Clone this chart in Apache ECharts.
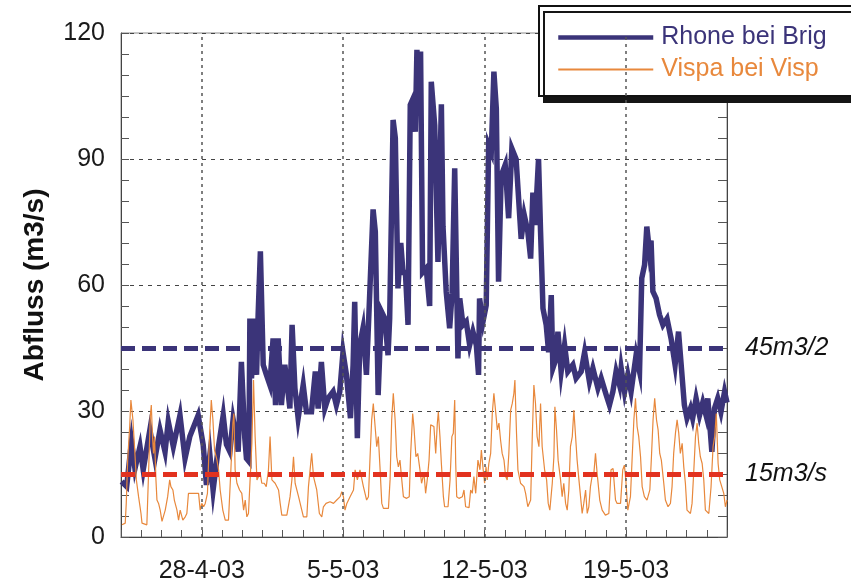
<!DOCTYPE html>
<html>
<head>
<meta charset="utf-8">
<script src="https://cdn.jsdelivr.net/npm/echarts@6/dist/echarts.min.js"></script>
<style>
  html, body { margin: 0; padding: 0; background: #fff; }
  #chart { width: 851px; height: 582px; }
</style>
</head>
<body>
<div id="chart"></div>
<script>
// Abfluss der Rhone bei Brig und der Vispa bei Visp, 24.4.–24.5.2003
// x-Werte: Tage ab 24-4-03 00:00

const dayTicks = [4, 11, 18, 25];
const dayTickLabels = ['28-4-03', '5-5-03', '12-5-03', '19-5-03'];

const seriesNames = ['Rhone bei Brig', 'Vispa bei Visp'];
const thresholdValues = [45, 15];
const thresholdLabels = ['45m3/2', '15m3/s'];

const rhoneDay = [
  0.03, 0.28, 0.52, 0.69, 0.94, 1.10, 1.43, 1.68, 1.93, 2.18, 2.34, 2.59, 2.92, 3.17, 3.41, 3.82,
  4.07, 4.23, 4.40, 4.56, 4.81, 5.06, 5.22, 5.39, 5.55, 5.72, 5.80, 5.96, 6.13, 6.21, 6.33, 6.38,
  6.46, 6.63, 6.71, 6.79, 6.90, 7.04, 7.20, 7.37, 7.53, 7.65, 7.78, 7.94, 8.11, 8.36, 8.47, 8.61,
  8.77, 9.02, 9.18, 9.43, 9.62, 9.76, 9.92, 10.09, 10.25, 10.50, 10.66, 10.83, 10.99, 11.16, 11.36,
  11.49, 11.57, 11.70, 11.82, 11.98, 12.15, 12.31, 12.48, 12.59, 12.73, 12.89, 13.06, 13.22, 13.30,
  13.47, 13.58, 13.71, 13.85, 13.96, 14.08, 14.21, 14.32, 14.46, 14.57, 14.65, 14.73, 14.83, 14.93,
  15.11, 15.28, 15.36, 15.53, 15.69, 15.86, 15.94, 16.10, 16.27, 16.39, 16.52, 16.68, 16.77, 16.93,
  17.09, 17.26, 17.42, 17.59, 17.70, 17.75, 17.92, 18.08, 18.20, 18.33, 18.46, 18.58, 18.69, 18.82,
  19.02, 19.19, 19.35, 19.56, 19.65, 19.81, 19.96, 20.14, 20.28, 20.39, 20.50, 20.67, 20.77, 20.89,
  21.05, 21.17, 21.30, 21.38, 21.54, 21.63, 21.79, 21.96, 22.12, 22.37, 22.53, 22.78, 22.95, 23.19,
  23.36, 23.61, 23.77, 24.02, 24.18, 24.35, 24.51, 24.68, 24.76, 24.93, 25.09, 25.25, 25.50, 25.67,
  25.78, 25.92, 26.03, 26.16, 26.24, 26.33, 26.49, 26.66, 26.83, 27.03, 27.23, 27.43, 27.60, 27.72,
  27.89, 28.02, 28.19, 28.30, 28.47, 28.64, 28.80, 28.96, 29.05, 29.25, 29.38, 29.54, 29.70, 29.88, 30.0
];
const rhoneFlow = [
  13.2, 12, 22.7, 16.3, 21.5, 16, 25.5, 18.7, 25.5, 20.3, 27.5, 21.5, 29, 18.7, 24, 29,
  21.9, 12.4, 19.5, 11.2, 21, 29, 22, 20.3, 28, 23.5, 20.3, 41.7, 23.5, 18.7, 18, 52,
  37.8, 52, 38.6, 53, 68, 41, 38.6, 36.2, 47.3, 31.4, 47.3, 31.4, 41, 30.6, 50.5, 35.4,
  28.3, 36.2, 29.8, 29.8, 39.4, 30.6, 41.7, 30.6, 33, 34.6, 31.4, 34.6, 44, 38.6, 28.3,
  41, 56, 23.5, 45.7, 49.7, 38.6, 57.6, 78, 72.7, 33.8, 53.7, 52, 43.3, 52,
  99.3, 95, 59.2, 70, 63, 63, 50.5, 102.9, 104.4, 96.5, 116, 102, 115.6, 63,
  64, 55, 108.4, 98, 65.5, 103, 74, 58.4, 49.7, 58, 87.8, 42.5, 56.8, 50.5,
  51.3, 45.7, 48.9, 45.7, 38.6, 56.8, 51.3, 55.2, 93.3, 91.7, 110.8, 102, 60.8, 86,
  88.6, 75.9, 92.5, 90, 90, 71, 76.7, 72.7, 66.3, 82, 74.3, 90, 72.7, 54.4,
  50.5, 44, 57.6, 40.2, 42.5, 48.9, 39.4, 45.7, 39.4, 41, 37.8, 39.4, 44, 37,
  40.2, 35.4, 37.8, 33.8, 31.4, 34.6, 39.4, 36.2, 40.2, 34.6, 38.6, 34.6, 43.3, 39.4,
  61.6, 64.8, 73.9, 68, 70.6, 58.5, 56.8, 52.9, 50.5, 52, 47.3, 41, 48.9, 41.7,
  31.4, 28.3, 30.6, 28.3, 33, 29, 32, 29, 33, 20.3, 30.6, 33, 29.8, 34.6, 32
];

const vispaDay = [
  0.05, 0.21, 0.26, 0.33, 0.43, 0.49, 0.59, 0.66, 0.76, 0.87, 0.99, 1.04, 1.28, 1.37, 1.45, 1.50,
  1.56, 1.61, 1.66, 1.73, 1.78, 1.86, 1.94, 2.03, 2.11, 2.19, 2.31, 2.41, 2.47, 2.57, 2.64, 2.77,
  2.85, 2.93, 3.06, 3.18, 3.26, 3.34, 3.84, 3.92, 4.00, 4.09, 4.17, 4.28, 4.38, 4.47, 4.55, 4.63,
  4.75, 4.83, 4.91, 5.04, 5.16, 5.32, 5.44, 5.54, 5.59, 5.65, 5.74, 5.87, 5.98, 6.07, 6.15, 6.23,
  6.31, 6.48, 6.56, 6.64, 6.73, 6.81, 6.89, 6.97, 7.09, 7.19, 7.30, 7.38, 7.47, 7.63, 7.80, 7.88,
  7.96, 8.21, 8.37, 8.46, 8.54, 8.62, 8.79, 8.95, 9.03, 9.20, 9.28, 9.44, 9.53, 9.69, 9.82, 9.94,
  10.02, 10.15, 10.35, 10.52, 10.68, 10.85, 10.93, 11.01, 11.09, 11.18, 11.34, 11.51, 11.59, 11.70,
  11.83, 12.00, 12.16, 12.25, 12.33, 12.41, 12.49, 12.58, 12.66, 12.74, 12.82, 12.91, 12.99, 13.24,
  13.32, 13.40, 13.48, 13.57, 13.65, 13.73, 13.81, 13.90, 13.98, 14.14, 14.27, 14.34, 14.44, 14.50,
  14.60, 14.69, 14.80, 14.88,
  15.00, 15.08, 15.16, 15.25, 15.33, 15.49, 15.58, 15.66, 15.71, 15.79, 15.86, 15.96, 16.02, 16.19,
  16.29, 16.38, 16.45, 16.52, 16.57, 16.62, 16.73, 16.90, 16.98, 17.06, 17.23, 17.31, 17.39, 17.47,
  17.56, 17.67, 17.77, 17.84, 17.93, 18.00, 18.07, 18.13, 18.21, 18.30, 18.38, 18.46, 18.54, 18.63,
  18.71, 18.79, 18.87, 18.96, 19.04, 19.12, 19.20, 19.29, 19.37, 19.45, 19.50, 19.58, 19.65, 19.78,
  19.95, 20.03, 20.14, 20.28, 20.36, 20.44, 20.52, 20.60, 20.69, 20.77, 20.85, 20.97, 21.07, 21.15,
  21.23, 21.35, 21.43, 21.48, 21.56, 21.64, 21.76, 21.84, 21.92, 22.01, 22.09, 22.17, 22.25, 22.34,
  22.42, 22.50, 22.58, 22.67, 22.75, 22.83, 22.91, 23.00, 23.08, 23.16, 23.24, 23.32, 23.41, 23.49,
  23.57, 23.70, 23.82, 23.98, 24.15, 24.26, 24.36, 24.48, 24.56, 24.73, 24.84, 24.92, 24.99, 25.09,
  25.22, 25.30, 25.39, 25.47, 25.55, 25.63, 25.72, 25.80, 25.91, 26.04, 26.18, 26.26, 26.34, 26.42,
  26.51, 26.59, 26.67, 26.75, 26.87, 26.95, 27.08, 27.20, 27.28, 27.36, 27.45, 27.53, 27.61, 27.69,
  27.78, 27.86, 27.94, 28.02, 28.19, 28.27, 28.35, 28.44, 28.52, 28.60, 28.68, 28.77, 28.85, 28.93,
  29.10, 29.21, 29.31, 29.39, 29.47, 29.56, 29.64, 29.72, 29.84, 29.92, 30.0
];
const vispaFlow = [
  2.9, 3.3, 8.0, 18.3, 26.3, 32.6, 27.9, 22.3, 13.6, 9.6, 5.6, 3.3, 2.9, 16.0, 28.7, 31.4,
  23.9, 19.9, 23.9, 13.6, 8.8, 8.0, 6.4, 3.7, 3.3, 6.4, 9.6, 13.6, 12.0, 11.2, 8.8, 6.4,
  4.0, 6.4, 4.0, 4.8, 5.6, 10.4, 10.4, 6.4, 8.0, 7.2, 8.0, 10.4, 23.9, 32.6, 27.9, 20.7,
  18.3, 16.0, 11.2, 6.4, 4.0, 4.0, 16.0, 27.1, 29.4, 16.0, 12.8, 11.2, 10.4, 6.4, 8.8, 4.8,
  5.6, 22.3, 37.4, 23.9, 13.6, 14.4, 15.2, 12.8, 12.8, 12.0, 16.0, 23.9, 13.6, 12.8, 11.2, 8.0,
  5.2, 5.2, 9.6, 13.6, 19.1, 12.8, 9.6, 6.4, 4.8, 4.8, 12.0, 19.9, 14.4, 11.2, 5.6, 4.8,
  7.2, 8.0, 8.4, 8.0, 8.8, 9.6, 10.8, 9.6, 6.4, 8.0, 9.6, 11.2, 16.0, 13.6,
  16.0, 12.0, 8.8, 9.6, 19.1, 27.9, 31.8, 26.3, 21.5, 23.9, 16.7, 8.0, 6.8, 6.8,
  13.6, 27.9, 34.2, 27.9, 19.1, 16.7, 18.3, 13.6, 9.6, 9.2, 9.6, 19.9, 29.4, 26.3,
  19.1, 19.9, 16.0, 12.8,
  15.2, 10.4, 13.6, 18.3, 26.7, 26.3, 19.9, 27.1, 29.8, 23.9, 17.5, 9.6, 7.2, 7.2,
  13.6, 23.9, 24.7, 32.6, 17.5, 9.6, 9.2, 9.6, 11.2, 7.2, 7.0, 11.2, 10.4, 14.4,
  10.4, 18.3, 16.0, 20.7, 16.0, 12.8, 16.7, 13.6, 17.5, 19.9, 29.4, 34.2, 30.2, 25.5,
  27.1, 23.1, 19.9, 18.3, 14.4, 13.6, 19.9, 30.2, 31.8, 34.2, 37.4, 24.7, 16.0, 12.8,
  12.0, 10.4, 7.2, 8.8, 23.9, 36.2, 31.8, 23.9, 21.5, 31.8, 21.5, 16.0, 13.6, 8.0,
  6.4, 12.8, 19.1, 31.0, 25.5, 18.3, 13.6, 9.6, 12.8, 8.0, 6.4, 11.2, 21.5, 23.9,
  30.2, 30.6, 18.3, 13.6, 9.6, 5.6, 8.0, 11.2, 5.6, 7.2, 12.0, 14.4, 15.2, 19.9,
  15.2, 8.8, 6.4, 5.2, 5.6, 16.0, 16.3, 8.8, 8.0, 8.0, 16.0, 17.1, 13.6, 6.4,
  9.6, 18.3, 27.9, 33.0, 26.3, 23.9, 19.1, 12.0, 9.6, 8.8, 11.2, 19.1, 27.9, 33.0,
  27.9, 25.5, 19.9, 18.3, 12.8, 8.8, 7.2, 8.0, 12.0, 19.9, 24.8, 27.9, 24.8, 19.9,
  22.3, 16.7, 12.8, 6.4, 5.6, 8.0, 15.2, 23.9, 27.1, 22.3, 19.1, 17.5, 13.6, 6.4,
  5.6, 11.9, 21.5, 23.9, 29.4, 17.5, 13.6, 13.6, 10.4, 7.2, 8.8
];

const NAVY = '#3b3479';
const ORANGE = '#e8883c';
const RED = '#e2321f';
const FONT = 'Liberation Sans, Arial, sans-serif';

const zip = (xs, ys) => xs.map((x, i) => [x, ys[i]]);

const chart = echarts.init(document.getElementById('chart'), null, { renderer: 'canvas' });

const option = {
  backgroundColor: '#fff',
  animation: false,
  textStyle: { fontFamily: FONT },
  grid: {
    left: 121, right: 124, top: 33, bottom: 45,
    containLabel: false,
    outerBoundsMode: 'none',
    show: true, borderColor: '#8a8a8a', borderWidth: 1, backgroundColor: 'transparent'
  },
  legend: {
    orient: 'vertical',
    left: 539, top: 6,
    padding: [19, 90, 14, 17],
    itemGap: 7,
    itemWidth: 95, itemHeight: 14,
    backgroundColor: '#fff',
    borderColor: '#111', borderWidth: 2,
    shadowColor: '#151515', shadowBlur: 0, shadowOffsetX: 5, shadowOffsetY: 6,
    itemStyle: { opacity: 0 },
    textStyle: { fontSize: 25, fontFamily: FONT, padding: [0, 0, 0, 3] },
    data: [
      { name: seriesNames[0], textStyle: { color: NAVY }, lineStyle: { color: NAVY, width: 4.5 } },
      { name: seriesNames[1], textStyle: { color: ORANGE } }
    ],
    selectedMode: false
  },
  xAxis: {
    type: 'value',
    min: 0, max: 30, interval: 1,
    axisLine: { show: true, lineStyle: { color: '#444', width: 1 } },
    axisTick: { show: true, inside: true, length: 7, lineStyle: { color: '#555' } },
    axisLabel: {
      fontSize: 25, color: '#1a1a1a', margin: 22, fontFamily: FONT,
      formatter: v => {
        const i = dayTicks.indexOf(Math.round(v));
        return i >= 0 ? dayTickLabels[i] : '';
      }
    },
    splitLine: { show: false }
  },
  yAxis: [
    {
      type: 'value',
      min: 0, max: 120, interval: 30,
      name: 'Abfluss (m3/s)',
      nameLocation: 'middle',
      nameRotate: 90,
      nameGap: 72,
      nameTextStyle: { fontSize: 28, fontWeight: 'bold', color: '#111', fontFamily: FONT },
      axisLine: { show: true, lineStyle: { color: '#444', width: 1 } },
      axisTick: { show: true, inside: true, length: 8, lineStyle: { color: '#555' } },
      minorTick: { show: true, splitNumber: 6, length: 8, lineStyle: { color: '#555' } },
      axisLabel: { fontSize: 25, color: '#1a1a1a', margin: 16, fontFamily: FONT },
      splitLine: { show: true, lineStyle: { color: '#444', width: 1, type: [4, 5] } }
    },
    {
      type: 'value',
      position: 'right',
      min: 0, max: 120, interval: 30,
      axisLine: { show: true, lineStyle: { color: '#444', width: 1 } },
      axisTick: { show: true, inside: true, length: 9, lineStyle: { color: '#555' } },
      minorTick: { show: true, splitNumber: 6, length: 9, lineStyle: { color: '#555' } },
      axisLabel: { show: false },
      splitLine: { show: false }
    }
  ],
  series: [
    {
      // vertical date grid lines
      name: 'grid',
      type: 'line',
      data: [],
      z: 1,
      silent: true,
      markLine: {
        silent: true,
        symbol: 'none',
        label: { show: false },
        lineStyle: { color: '#555', width: 1.5, type: [3, 4] },
        data: dayTicks.map(d => ({ xAxis: d }))
      }
    },
    {
      name: seriesNames[0],
      type: 'line',
      data: zip(rhoneDay, rhoneFlow),
      showSymbol: false,
      symbol: 'none',
      z: 2,
      lineStyle: { color: NAVY, width: 5.5, join: 'miter' },
      itemStyle: { color: NAVY }
    },
    {
      name: seriesNames[1],
      type: 'line',
      data: zip(vispaDay, vispaFlow),
      showSymbol: false,
      symbol: 'none',
      z: 3,
      lineStyle: { color: ORANGE, width: 1.2 },
      itemStyle: { color: ORANGE }
    },
    {
      // threshold lines
      name: 'limits',
      type: 'line',
      data: [],
      z: 4,
      silent: true,
      markLine: {
        silent: true,
        symbol: 'none',
        data: [
          {
            yAxis: thresholdValues[0],
            lineStyle: { color: NAVY, width: 5, type: [14, 7] },
            label: { formatter: thresholdLabels[0] }
          },
          {
            yAxis: thresholdValues[1],
            lineStyle: { color: RED, width: 5, type: [14, 7] },
            label: { formatter: thresholdLabels[1] }
          }
        ],
        label: {
          show: true, position: 'end', distance: 18,
          fontSize: 25, fontStyle: 'italic', color: '#111', fontFamily: FONT
        }
      }
    }
  ]
};

chart.setOption(option);
</script>
</body>
</html>
